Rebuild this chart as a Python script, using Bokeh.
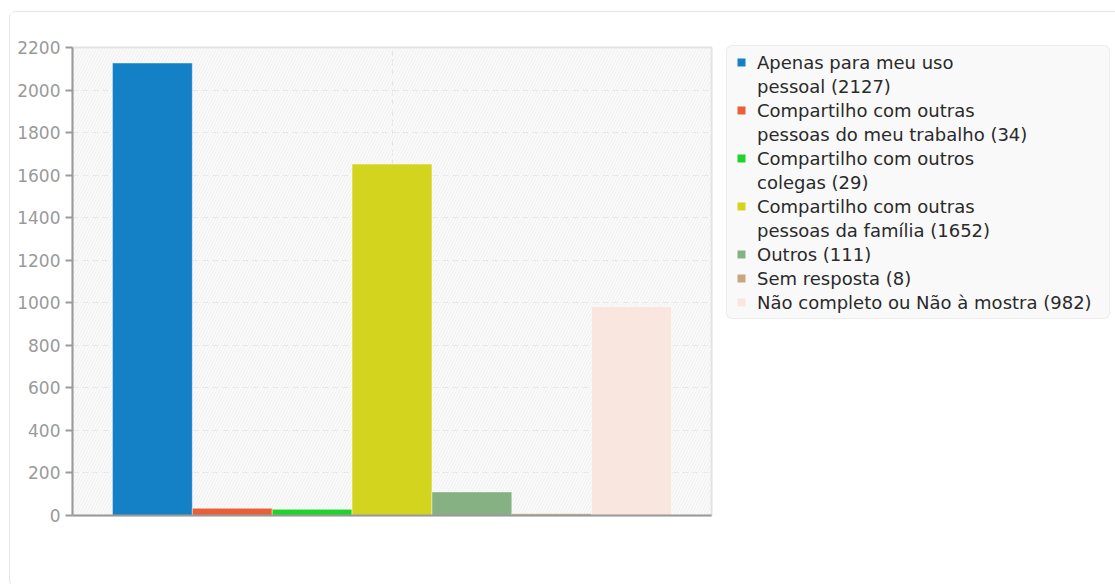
from bokeh.plotting import figure
from bokeh.models import (Range1d, FixedTicker, Legend, LegendItem, BoxAnnotation,
                          ColumnDataSource)
from bokeh.embed import file_html
from bokeh.resources import INLINE

# ---- data ----
series_labels = [
    ["Apenas para meu uso", "pessoal (2127)"],
    ["Compartilho com outras", "pessoas do meu trabalho (34)"],
    ["Compartilho com outros", "colegas (29)"],
    ["Compartilho com outras", "pessoas da família (1652)"],
    ["Outros (111)"],
    ["Sem resposta (8)"],
    ["Não completo ou Não à mostra (982)"],
]
values = [2127, 34, 29, 1652, 111, 8, 982]
colors = ["#1480c6", "#e95f37", "#1ed32a", "#d2d41e", "#86b283", "#c8a680", "#f9e6de"]
y_ticks = [0, 200, 400, 600, 800, 1000, 1200, 1400, 1600, 1800, 2000, 2200]

positions = [i + 1 for i in range(len(values))]
center = (len(values) + 1) / 2

src = ColumnDataSource(dict(x=positions, top=values, color=colors))

p = figure(frame_width=639, frame_height=468,
           x_range=Range1d(0, len(values) + 1), y_range=Range1d(0, 2200),
           output_backend="svg", toolbar_location=None,
           min_border_left=62, min_border_right=0, min_border_top=35, min_border_bottom=71,
           margin=(12, 5, 0, 10))
p.styles = {"box-shadow": "0 0 0 1px #e6e6e6", "border-radius": "6px"}

p.background_fill_color = "#fafafa"
p.border_fill_color = "white"
p.outline_line_color = "#e2e2e2"
p.outline_line_width = 2

hatch = BoxAnnotation(fill_alpha=0, line_color=None, hatch_pattern="/",
                      hatch_color="#f0f0f0", hatch_scale=6, hatch_weight=1,
                      level="underlay")
p.add_layout(hatch)

p.vbar(x="x", top="top", width=1, bottom=0, source=src,
       fill_color="color", line_color="#ffffff", line_alpha=0.45, line_width=1)

# legend proxies (invisible in plot); continuation lines get an invisible glyph
items = []
for i, lines in enumerate(series_labels):
    r = p.scatter(x=[positions[i]], y=[values[i]], size=0, marker="square",
                  fill_color=colors[i], line_color=None)
    items.append(LegendItem(label=lines[0], renderers=[r]))
    for extra in lines[1:]:
        r2 = p.scatter(x=[positions[i]], y=[values[i]], size=0, marker="square",
                       fill_alpha=0, line_color=None)
        items.append(LegendItem(label=extra, renderers=[r2]))

legend = Legend(items=items, location=(15, 196),
                label_text_font="DejaVu Sans", label_text_font_size="18px",
                label_text_color="#2a2a2a",
                glyph_width=20, glyph_height=24, label_standoff=6, label_width=348,
                padding=4, spacing=0, margin=0,
                background_fill_color="#f9f9f9", background_fill_alpha=1,
                border_line_color="#e2e2e2", border_line_width=1)
if "border_radius" in Legend.properties():
    legend.border_radius = 6
p.add_layout(legend, "right")

# axes
p.yaxis.ticker = FixedTicker(ticks=y_ticks)
p.yaxis.major_label_text_font = "DejaVu Sans"
p.yaxis.major_label_text_font_size = "17px"
p.yaxis.major_label_text_color = "#9a9a9a"
p.yaxis.axis_line_color = "#9a9a9a"
p.yaxis.axis_line_width = 2
p.yaxis.major_tick_line_color = "#9a9a9a"
p.yaxis.major_tick_line_width = 2
p.yaxis.major_tick_out = 7
p.yaxis.major_tick_in = 0
p.yaxis.minor_tick_line_color = None
p.yaxis.major_label_standoff = 5

p.xaxis.ticker = FixedTicker(ticks=[])
p.xaxis.major_tick_line_color = None
p.xaxis.minor_tick_line_color = None
p.xaxis.axis_line_color = "#9a9a9a"
p.xaxis.axis_line_width = 2

p.ygrid.grid_line_color = "#e4e4e4"
p.ygrid.grid_line_dash = "6 4"
p.xgrid.ticker = FixedTicker(ticks=[center])
p.xgrid.grid_line_color = "#e4e4e4"
p.xgrid.grid_line_dash = "6 4"

open("out.html", "w").write(file_html(p, INLINE))
